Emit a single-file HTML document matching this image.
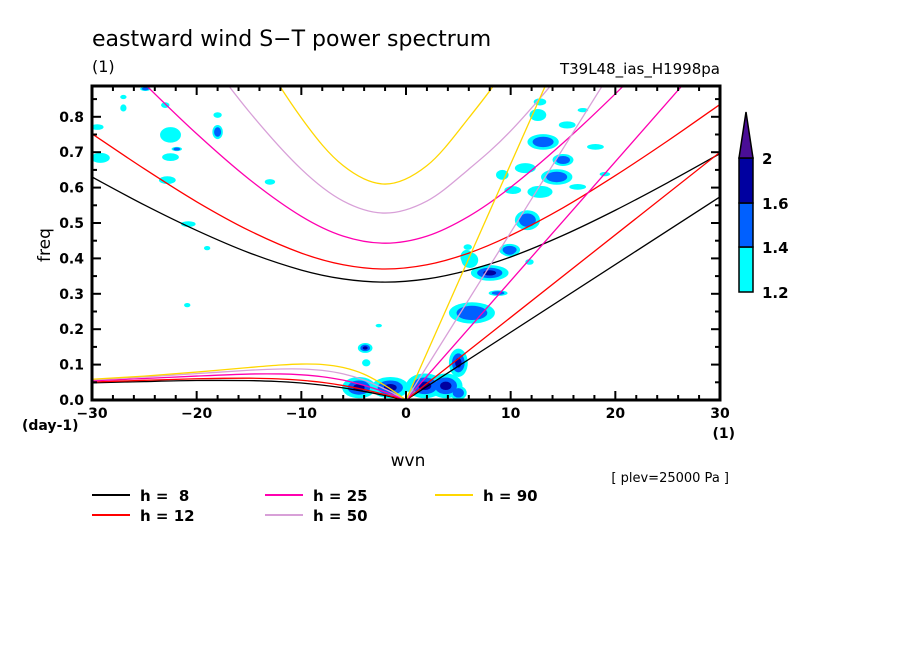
<!DOCTYPE html>
<html><head><meta charset="utf-8">
<style>
html,body{margin:0;padding:0;background:#fff;}
svg{display:block;font-family:"DejaVu Sans","Liberation Sans",sans-serif;}
</style></head>
<body>
<svg id="chart" width="904" height="654" viewBox="0 0 904 654" xmlns="http://www.w3.org/2000/svg">
<rect width="904" height="654" fill="#fff"/>
<text x="92" y="46" font-size="22" fill="#000">eastward wind S−T power spectrum</text>
<text x="92" y="72" font-size="16" fill="#000">(1)</text>
<text x="720" y="74" font-size="15" text-anchor="end" fill="#000">T39L48_ias_H1998pa</text>
<defs><clipPath id="pc"><rect x="92" y="86" width="628" height="314"/></clipPath></defs>
<g id="blobs" clip-path="url(#pc)"></g>
<g id="curves" clip-path="url(#pc)"></g>
<g id="axes"></g>
<g id="colorbar"></g>
<text x="408" y="466" font-size="17" text-anchor="middle">wvn</text>
<text x="50" y="245" font-size="17" text-anchor="middle" transform="rotate(-90 50 245)">freq</text>
<text x="22" y="430" font-size="14" font-weight="bold">(day-1)</text>
<text x="735" y="438" font-size="14" font-weight="bold" text-anchor="end">(1)</text>
<text x="729" y="482" font-size="13" text-anchor="end">[ plev=25000 Pa ]</text>
<g id="legend"></g>
</svg>
<script>
// ---- data ----
const xMin=-30,xMax=30,yMin=0,yMax=0.887;
const xTicks=[-30,-20,-10,0,10,20,30];
const yTicks=[0.0,0.1,0.2,0.3,0.4,0.5,0.6,0.7,0.8];
const depths=["8","12","25","50","90"];
const depthColors=["#000000","#ff0000","#ff00b0","#d8a0d8","#ffd700"];
// inertia-gravity n=1 branches
const igK=[-30,-25,-20,-15,-10,-6,-2,2,6,10,15,20,25,30];
const ig8=[.630,.551,.479,.416,.367,.342,.333,.342,.367,.404,.465,.536,.614,.696];
const ig12=[.752,.653,.560,.479,.415,.382,.370,.382,.415,.465,.543,.634,.732,.835];
const ig25=[1.044,.894,.752,.624,.519,.463,.443,.463,.519,.601,.726,.865,1.014,1.17];
const ig50=[1.44,1.22,1.009,.815,.652,.562,.528,.562,.652,.760,.930,1.12,1.33,1.55];
const ig90=[1.90,1.60,1.31,1.03,.797,.662,.610,.662,.797,.960,1.22,1.50,1.80,2.05];
// equatorial Rossby n=1
const rK=[-30,-25,-20,-15,-12,-10,-8,-6,-4,-2,-1,0];
const r8=[.0483,.0521,.0550,.0548,.0518,.0480,.0421,.0342,.0242,.0126,.0063,0];
const r12=[.0508,.0556,.0600,.0616,.0594,.0557,.0497,.0408,.0293,.0153,.0078,0];
const r25=[.0542,.0607,.0676,.0733,.0736,.0712,.0657,.0560,.0412,.0222,.0112,0];
const r50=[.0570,.0651,.0744,.0840,.0876,.0876,.0836,.0737,.0563,.0308,.0158,0];
const r90=[.0586,.0675,.0789,.0917,.0988,.1015,.1002,.0917,.0728,.0409,.0211,0];
// Kelvin
const kK=[0,30];
const kel8=[0,.574];
const kel12=[0,.70];
const kel25=[0,1.01];
const kel50=[0,1.42];
const kel90=[0,2.0];
// contour patches: wavenumber, frequency, half-width (k), half-height (f), level (1=cyan,2=blue,3=navy)
const blobK=[-4.5,-1.5,1.8,3.8,5.0,5.0,-3.9,-3.8,-2.6,13.1,15.0,14.4,11.4,9.2,12.6,12.8,15.4,12.8,10.2,11.6,9.9,6.1,8.0,18.1,16.4,16.9,19.0,8.8,6.3,9.9,5.8,11.8,5.9,-29.2,-22.5,-22.5,-22.8,-18.0,-13.0,-23.0,-27.0,-27.0,-24.9,-18.0,-20.8,-29.5,-20.9,-19.0,-21.9];
const blobF=[.035,.035,.04,.04,.02,.105,.147,.105,.21,.729,.678,.630,.655,.636,.805,.842,.777,.588,.593,.508,.424,.395,.359,.715,.602,.819,.638,.302,.246,.421,.404,.39,.432,.684,.749,.686,.621,.757,.616,.833,.825,.856,.879,.805,.497,.771,.268,.429,.709];
const blobRK=[1.6,1.8,1.8,1.6,0.8,0.9,0.7,0.4,0.3,1.5,1.0,1.5,1.0,0.6,0.8,0.6,0.8,1.2,0.8,1.2,1.0,0.8,1.8,0.8,0.8,0.5,0.5,0.9,2.2,0.8,0.6,0.4,0.4,0.9,1.0,0.8,0.8,0.5,0.5,0.4,0.3,0.3,0.5,0.4,0.7,0.6,0.3,0.3,0.5];
const blobRF=[.03,.03,.035,.035,.02,.04,.014,.01,.005,.022,.017,.022,.014,.014,.017,.01,.01,.017,.011,.028,.017,.022,.022,.008,.008,.006,.006,.008,.03,.016,.02,.008,.008,.014,.022,.011,.011,.02,.008,.008,.01,.006,.006,.008,.008,.008,.006,.006,.006];
const blobL=[3,3,3,3,2,3,3,1,1,2,2,2,1,1,1,1,1,1,1,2,2,1,3,1,1,1,1,2,2,2,1,1,1,1,1,1,1,2,1,1,1,1,2,1,1,1,1,1,2];
// colorbar
const cbLevels=["1.2","1.4","1.6","2"];
const cbColors=["#00ffff","#0060ff","#0000a0","#4a0e96"];

// ---- scales ----
const PX0=92,PX1=720,PY0=400,PY1=86;
const sx=k=>PX0+(k-xMin)/(xMax-xMin)*(PX1-PX0);
const sy=f=>PY0-(f-yMin)/(yMax-yMin)*(PY0-PY1);
const NS="http://www.w3.org/2000/svg";
function mk(tag,attrs,parent){const e=document.createElementNS(NS,tag);for(const a in attrs)e.setAttribute(a,attrs[a]);parent.appendChild(e);return e;}
function smooth(ks,fs){
  const p=ks.map((k,i)=>[sx(k),sy(fs[i])]);
  let d=`M${p[0][0]},${p[0][1]}`;
  for(let i=0;i<p.length-1;i++){
    const p0=p[i-1]||p[i],p1=p[i],p2=p[i+1],p3=p[i+2]||p[i+1];
    const c1=[p1[0]+(p2[0]-p0[0])/6,p1[1]+(p2[1]-p0[1])/6];
    const c2=[p2[0]-(p3[0]-p1[0])/6,p2[1]-(p3[1]-p1[1])/6];
    d+=` C${c1[0]},${c1[1]} ${c2[0]},${c2[1]} ${p2[0]},${p2[1]}`;
  }
  return d;
}

// ---- blobs ----
const gb=document.getElementById('blobs');
const fill=["","#00ffff","#0060ff","#0000a0"];
for(let lv=1;lv<=3;lv++){
  for(let i=0;i<blobK.length;i++){
    if(blobL[i]<lv)continue;
    const sc=1-(lv-1)*0.33;
    const el=mk('ellipse',{cx:sx(blobK[i]),cy:sy(blobF[i]),rx:Math.max(1.5,(sx(blobRK[i])-sx(0))*sc),ry:Math.max(1.5,(sy(0)-sy(blobRF[i]))*sc),fill:fill[lv]},gb);
    
    
  }
}

// ---- curves ----
const gc=document.getElementById('curves');
const igS=[ig8,ig12,ig25,ig50,ig90],rS=[r8,r12,r25,r50,r90],kS=[kel8,kel12,kel25,kel50,kel90];
for(let j=0;j<depths.length;j++){
  const a=mk('path',{d:smooth(igK,igS[j]),fill:'none',stroke:depthColors[j],'stroke-width':1.3},gc);
  
  
  const b=mk('path',{d:smooth(rK,rS[j]),fill:'none',stroke:depthColors[j],'stroke-width':1.3},gc);
  
  
  const c=mk('line',{x1:sx(kK[0]),y1:sy(kS[j][0]),x2:sx(kK[1]),y2:sy(kS[j][1]),stroke:depthColors[j],'stroke-width':1.3},gc);
  
  
}

// ---- axes ----
const ga=document.getElementById('axes');
const frame=mk('rect',{x:PX0,y:PY1,width:PX1-PX0,height:PY0-PY1,fill:'none',stroke:'#000','stroke-width':3},ga);


for(let k=xMin;k<=xMax;k+=2){
  const major=k%10===0, L=major?9:5;
  mk('line',{x1:sx(k),y1:PY0,x2:sx(k),y2:PY0-L,stroke:'#000','stroke-width':2},ga);
  mk('line',{x1:sx(k),y1:PY1,x2:sx(k),y2:PY1+L,stroke:'#000','stroke-width':2},ga);
}
for(let f=0;f<=0.88;f+=0.05){
  const major=Math.round(f*100)%10===0, L=major?9:5;
  mk('line',{x1:PX0,y1:sy(f),x2:PX0+L,y2:sy(f),stroke:'#000','stroke-width':2},ga);
  mk('line',{x1:PX1,y1:sy(f),x2:PX1-L,y2:sy(f),stroke:'#000','stroke-width':2},ga);
}
xTicks.forEach(k=>{
  const t=mk('text',{x:sx(k),y:418,'font-size':14,'font-weight':'bold','text-anchor':'middle'},ga);
  t.textContent=k<0?'−'+(-k):String(k);
  
  
});
yTicks.forEach(f=>{
  const t=mk('text',{x:84,y:sy(f)+5,'font-size':14,'font-weight':'bold','text-anchor':'end'},ga);
  t.textContent=f.toFixed(1);
  
  
});

// ---- colorbar ----
const gcb=document.getElementById('colorbar');
const cbX=739,cbW=14,cbY=[292,247,203,158];
for(let i=0;i<3;i++){
  const r=mk('rect',{x:cbX,y:cbY[i+1],width:cbW,height:cbY[i]-cbY[i+1],fill:cbColors[i],stroke:'#000','stroke-width':1.5},gcb);
  
  
}
const tri=mk('polygon',{points:`${cbX},158 ${cbX+cbW},158 ${cbX+cbW/2},112`,fill:cbColors[3],stroke:'#000','stroke-width':1.5},gcb);


cbLevels.forEach((lv,i)=>{
  const t=mk('text',{x:762,y:[292,247,203,158][i]+6,'font-size':15,'font-weight':'bold'},gcb);
  t.textContent=lv;
  
  
});

// ---- legend ----
const gl=document.getElementById('legend');
const legX=[92,92,265,265,435],legY=[495,515,495,515,495];
for(let j=0;j<depths.length;j++){
  const ln=mk('line',{x1:legX[j],y1:legY[j],x2:legX[j]+38,y2:legY[j],stroke:depthColors[j],'stroke-width':2},gl);
  
  
  const t=mk('text',{x:legX[j]+48,y:legY[j]+6,'font-size':15,'font-weight':'bold','xml:space':'preserve'},gl);
  t.textContent='h = '+(depths[j].length<2?'\u00a0':'')+depths[j];
  
  
}
</script>
</body></html>
